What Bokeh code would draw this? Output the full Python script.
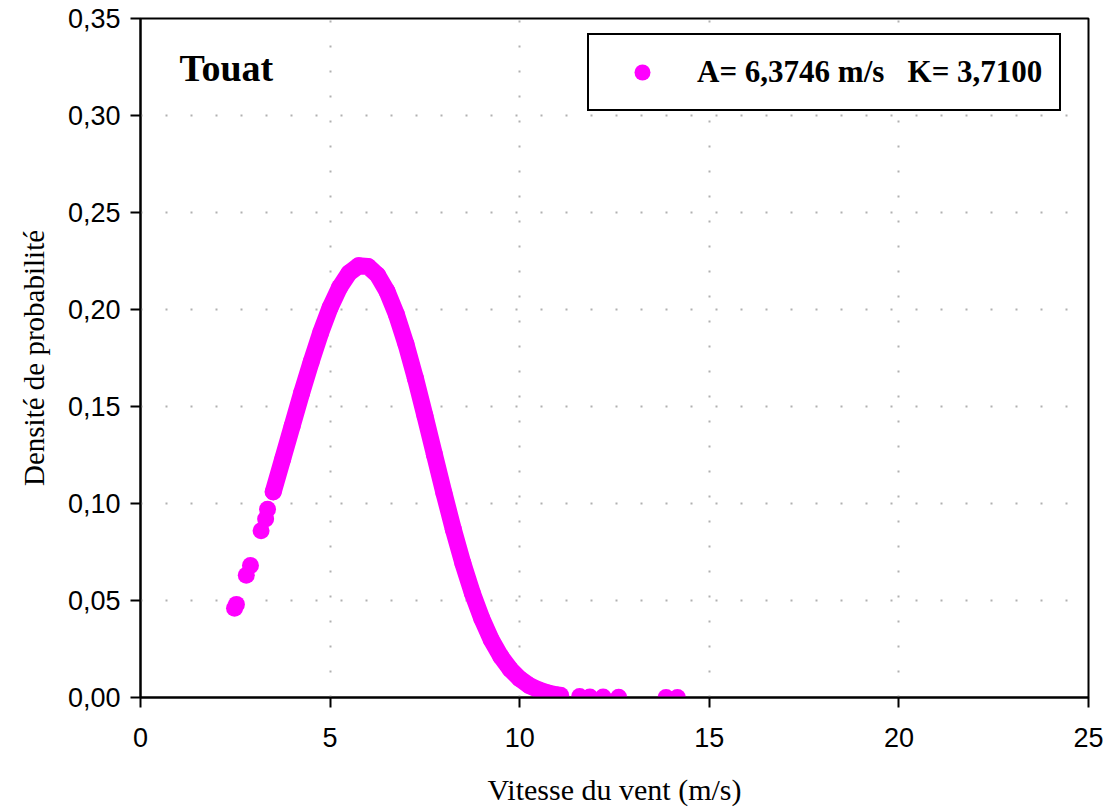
from bokeh.plotting import figure
from bokeh.models import (Range1d, FixedTicker, CustomJSTickFormatter, Legend,
                          LegendItem, Label)
from bokeh.embed import file_html
from bokeh.resources import INLINE

# ---- data ----
# isolated low-speed points
low_speed = [2.48, 2.53, 2.79, 2.90, 3.18, 3.30, 3.35]
low_dens = [0.046, 0.048, 0.063, 0.068, 0.086, 0.092, 0.097]

# dense band of points (Weibull density, A=6.3746 m/s, K=3.71)
band_speed = [3.50, 3.75, 4.00, 4.25, 4.50, 4.75, 5.00, 5.25, 5.50, 5.75,
              6.00, 6.25, 6.50, 6.75, 7.00, 7.25, 7.50, 7.75, 8.00, 8.25,
              8.50, 8.75, 9.00, 9.25, 9.50, 9.75, 10.00, 10.25, 10.50,
              10.75, 11.00]
band_dens = [0.106, 0.123, 0.140, 0.157, 0.173, 0.188, 0.201, 0.2114, 0.2188,
             0.2225, 0.2222, 0.2178, 0.2094, 0.1974, 0.1822, 0.1646, 0.1453,
             0.1254, 0.1056, 0.0867, 0.0693, 0.0539, 0.0407, 0.0298, 0.0212,
             0.0146, 0.0097, 0.0062, 0.0039, 0.0023, 0.0013]

# isolated high-speed points
high_speed = [11.08, 11.58, 11.85, 12.20, 12.61, 13.86, 14.16]
high_dens = [0.0011, 0.0005, 0.0003, 0.0002, 0.0001, 0.0, 0.0]

x_ticks = [0, 5, 10, 15, 20, 25]
y_ticks = [0, 0.05, 0.10, 0.15, 0.20, 0.25, 0.30, 0.35]

title_text = "Touat"
legend_text = "A= 6,3746 m/s\u00a0\u00a0\u00a0K= 3,7100"
x_title = "Vitesse du vent (m/s)"
y_title = "Densité de probabilité"

MAGENTA = "#ff00ff"
MARK = 17

p = figure(width=1104, height=811, output_backend="svg", toolbar_location=None,
           x_range=Range1d(0, 25), y_range=Range1d(0, 0.35),
           min_border_left=140, min_border_right=16, min_border_top=18,
           min_border_bottom=114)
p.background_fill_color = "white"
p.border_fill_color = "white"
p.outline_line_color = "black"
p.outline_line_width = 2

# dense band drawn as a thick round-jointed line through the points
p.line(band_speed, band_dens, line_color=MAGENTA, line_width=MARK,
       line_join="round", line_cap="round")
r_band = p.scatter(band_speed, band_dens, size=MARK, fill_color=MAGENTA,
                   line_color=MAGENTA, line_width=0)
p.scatter(low_speed, low_dens, size=MARK, fill_color=MAGENTA,
          line_color=MAGENTA, line_width=0)
p.scatter(high_speed, high_dens, size=MARK, fill_color=MAGENTA,
          line_color=MAGENTA, line_width=0)

# axes
for ax in (p.xaxis[0], p.yaxis[0]):
    ax.axis_line_width = 2
    ax.axis_line_color = "black"
    ax.major_tick_line_width = 2
    ax.major_tick_line_color = "black"
    ax.major_tick_out = 10
    ax.major_tick_in = 0
    ax.minor_tick_line_color = None
    ax.major_label_text_font = "Liberation Sans"
    ax.major_label_text_font_size = "27px"
    ax.major_label_text_color = "black"
    ax.axis_label_text_font = "Liberation Serif"
    ax.axis_label_text_font_size = "30px"
    ax.axis_label_text_font_style = "normal"
    ax.axis_label_text_color = "black"

p.yaxis.axis_label_text_font_size = "29px"
p.xaxis.ticker = FixedTicker(ticks=x_ticks)
p.yaxis.ticker = FixedTicker(ticks=y_ticks)
p.yaxis.formatter = CustomJSTickFormatter(code="return tick.toFixed(2).replace('.', ',');")
p.xaxis.axis_label = x_title
p.yaxis.axis_label = y_title
p.xaxis.major_label_standoff = 20
p.yaxis.major_label_standoff = 10
p.xaxis.axis_label_standoff = 23
p.yaxis.axis_label_standoff = 15

# grid
p.xgrid.ticker = FixedTicker(ticks=x_ticks)
p.ygrid.ticker = FixedTicker(ticks=y_ticks)
for g in (p.xgrid[0], p.ygrid[0]):
    g.grid_line_color = "#b0b0b0"
    g.grid_line_width = 2
    g.grid_line_dash = "2 23"

# title label inside the plot
p.add_layout(Label(x=1.03, y=0.3245, text=title_text, text_font="Liberation Serif",
                   text_font_style="bold", text_font_size="38px",
                   text_color="black", text_baseline="alphabetic"))

# legend
legend = Legend(items=[LegendItem(label=legend_text, renderers=[r_band])],
                location=(447, 586), orientation="vertical",
                label_text_font="Liberation Serif", label_text_font_style="bold",
                label_text_font_size="31px", label_text_color="black",
                glyph_width=72, glyph_height=40, label_height=40,
                label_standoff=19, padding=17, spacing=0, margin=0,
                border_line_color="black", border_line_width=2,
                border_line_alpha=1.0,
                background_fill_color="white", background_fill_alpha=1.0)
p.add_layout(legend)

open("out.html", "w").write(file_html(p, INLINE))
